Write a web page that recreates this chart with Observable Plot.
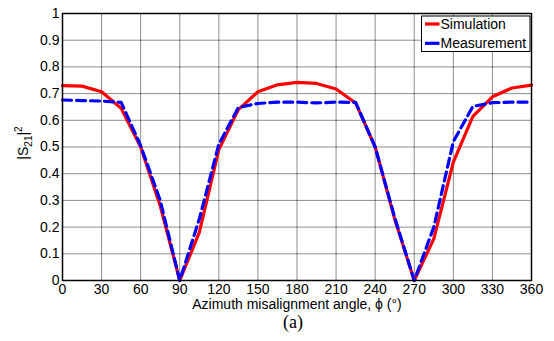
<!DOCTYPE html>
<html><head><meta charset="utf-8">
<script src="https://cdn.jsdelivr.net/npm/d3@7"></script>
<script src="https://cdn.jsdelivr.net/npm/@observablehq/plot@0.6"></script>
<style>body{margin:0;background:#fff} svg{font-family:"Liberation Sans",Arial,sans-serif}</style>
</head><body><div id="chart"></div>
<script>
const angles = [0,15,30,45,60,75,90,105,120,135,150,165,180,195,210,225,240,255,270,285,300,315,330,345,360];
const simulation = [0.73,0.728,0.707,0.645,0.5,0.28,0,0.18,0.49,0.64,0.707,0.733,0.742,0.738,0.717,0.665,0.5,0.23,0,0.156,0.443,0.615,0.688,0.721,0.732];
const measurement = [0.676,0.674,0.672,0.667,0.505,0.3,0,0.23,0.51,0.648,0.663,0.668,0.668,0.665,0.668,0.667,0.5,0.235,0,0.2,0.52,0.652,0.666,0.668,0.668];
const xTicks = [0,30,60,90,120,150,180,210,240,270,300,330,360];
const yTicks = [0,0.1,0.2,0.3,0.4,0.5,0.6,0.7,0.8,0.9,1];
const seriesNames = ["Simulation","Measurement"];
const seriesColors = ["#ff0000","#0000ff"];

const plot = Plot.plot({
  width: 554, height: 341,
  marginLeft: 62, marginRight: 23, marginTop: 13, marginBottom: 61,
  style: {fontFamily: "Liberation Sans, Arial, sans-serif", fontSize: "14px", background: "#fff", color: "#000", overflow: "visible"},
  x: {domain: [0,360], label: null},
  y: {domain: [0,1], label: null},
  marks: [
    Plot.gridX(xTicks, {stroke: "#000", strokeOpacity: 0.45, strokeWidth: 1}),
    Plot.gridY(yTicks, {stroke: "#000", strokeOpacity: 0.45, strokeWidth: 1}),
    Plot.axisX(xTicks, {tickSize: 0, tickPadding: 4, fontSize: 14, tickFormat: d => String(d), label: null}),
    Plot.axisY(yTicks, {tickSize: 0, tickPadding: 3, fontSize: 14, tickFormat: d => String(d), label: null}),
    Plot.line(angles, {x: d => d, y: (d, i) => simulation[i], stroke: seriesColors[0], strokeWidth: 3.2}),
    Plot.line(angles, {x: d => d, y: (d, i) => measurement[i], stroke: seriesColors[1], strokeWidth: 3.2, strokeDasharray: "9,5"}),
    Plot.frame({stroke: "#000", strokeWidth: 1.5})
  ]
});
document.getElementById("chart").appendChild(plot);

const svg = d3.select(plot);
// x axis title
svg.append("text").attr("x", 297).attr("y", 309).attr("text-anchor", "middle")
  .attr("font-size", 14).attr("fill", "#000").text("Azimuth misalignment angle, \u03D5 (\u00B0)");
// caption
svg.append("text").attr("x", 293).attr("y", 328).attr("text-anchor", "middle")
  .attr("font-family", "Liberation Serif, Times New Roman, serif").attr("font-size", 18).attr("fill", "#000").text("(a)");
// y axis title
const yl = svg.append("text").attr("transform", "translate(27.5,143) rotate(-90)")
  .attr("text-anchor", "middle").attr("font-size", 14).attr("fill", "#000");
yl.append("tspan").text("|S");
yl.append("tspan").attr("font-size", 10).attr("dy", 4).text("21");
yl.append("tspan").attr("dy", -4).text("|");
yl.append("tspan").attr("font-size", 10).attr("dy", -6).text("2");
// legend
const lg = svg.append("g").attr("text-anchor", "start");
lg.append("rect").attr("x", 421.5).attr("y", 16).attr("width", 108.5).attr("height", 35.5)
  .attr("fill", "#fff").attr("stroke", "#000").attr("stroke-width", 1);
seriesNames.forEach((name, i) => {
  const y = 24 + i * 19.3;
  lg.append("line").attr("x1", 425).attr("x2", 439.5).attr("y1", y).attr("y2", y)
    .attr("stroke", seriesColors[i]).attr("stroke-width", 3.2);
  lg.append("text").attr("x", 440.5).attr("y", y + 5).attr("text-anchor", "start")
    .attr("font-size", 14).attr("fill", "#000").text(name);
});
</script></body></html>
